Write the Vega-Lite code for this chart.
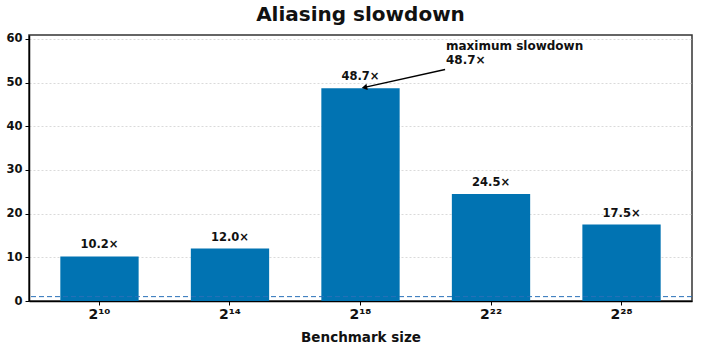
{
  "$schema": "https://vega.github.io/schema/vega-lite/v6.json",
  "width": 663,
  "height": 266,
  "autosize": {"type": "none"},
  "padding": {"left": 29, "top": 35, "right": 11, "bottom": 49},
  "background": "white",
  "title": {"text": "Aliasing slowdown", "font": "DejaVu Sans", "fontSize": 20, "fontWeight": "bold", "color": "#111", "offset": 8, "anchor": "middle"},
  "config": {
    "view": {"stroke": "#333", "strokeWidth": 1.5},
    "font": "DejaVu Sans"
  },
  "datasets": {
    "bars": [
      {"size": "2¹⁰", "slowdown": 10.2, "label": "10.2×"},
      {"size": "2¹⁴", "slowdown": 12.0, "label": "12.0×"},
      {"size": "2¹⁸", "slowdown": 48.7, "label": "48.7×"},
      {"size": "2²²", "slowdown": 24.5, "label": "24.5×"},
      {"size": "2²⁸", "slowdown": 17.5, "label": "17.5×"}
    ],
    "arrow": [
      {"px": 2.648, "py": 53.0, "part": "tail"},
      {"px": 2.03, "py": 48.9, "part": "tip"}
    ],
    "note": [
      {"px": 2.655, "py": 59.6, "text": "maximum slowdown\n48.7×"}
    ],
    "baseline": [
      {"level": 1}
    ]
  },
  "layer": [
    {
      "layer": [
        {
          "data": {"name": "bars"},
          "mark": {"type": "bar", "color": "#0173B2"},
          "encoding": {
            "x": {
              "field": "size", "type": "nominal", "sort": null,
              "scale": {"paddingInner": 0.4, "paddingOuter": 0.24},
              "axis": {
                "title": "Benchmark size", "labelAngle": 0, "labelFont": "DejaVu Sans", "labelFontSize": 14, "labelFontWeight": "bold", "labelColor": "#111",
                "titleFont": "DejaVu Sans", "titleFontSize": 13.5, "titleFontWeight": "bold", "titleColor": "#111", "titlePadding": 9,
                "domainColor": "#000", "domainWidth": 1.5, "tickColor": "#000", "tickSize": 4, "tickWidth": 1, "labelPadding": 2, "grid": false
              }
            },
            "y": {
              "field": "slowdown", "type": "quantitative",
              "scale": {"domain": [0, 60.9], "nice": false, "zero": true},
              "axis": {
                "title": null, "values": [0, 10, 20, 30, 40, 50, 60], "labelFont": "DejaVu Sans", "labelFontSize": 11.5, "labelFontWeight": "bold", "labelColor": "#111",
                "domainColor": "#000", "domainWidth": 1.5, "tickColor": "#000", "tickSize": 4, "tickWidth": 1, "labelPadding": 3,
                "grid": true, "gridColor": "#d0d0d0", "gridDash": [2, 2], "gridWidth": 0.8
              }
            }
          }
        },
        {
          "data": {"name": "bars"},
          "mark": {"type": "text", "baseline": "bottom", "dy": -6, "font": "DejaVu Sans", "fontSize": 11.5, "fontWeight": "bold", "color": "#111"},
          "encoding": {
            "x": {"field": "size", "type": "nominal", "sort": null},
            "y": {"field": "slowdown", "type": "quantitative"},
            "text": {"field": "label"}
          }
        },
        {
          "data": {"name": "baseline"},
          "mark": {"type": "rule", "color": "#2a70b8", "strokeDash": [5, 3], "strokeWidth": 1},
          "encoding": {"y": {"field": "level", "type": "quantitative"}}
        }
      ]
    },
    {
      "layer": [
        {
          "data": {"name": "arrow"},
          "mark": {"type": "line", "color": "#000", "strokeWidth": 1.3},
          "encoding": {
            "x": {"field": "px", "type": "quantitative", "scale": {"domain": [-0.54, 4.54], "nice": false, "zero": false}, "axis": null},
            "y": {"field": "py", "type": "quantitative"}
          }
        },
        {
          "data": {"name": "arrow"},
          "transform": [{"filter": "datum.part == 'tip'"}],
          "mark": {"type": "point", "shape": "triangle-up", "filled": true, "color": "#000", "size": 40, "angle": 258, "opacity": 1},
          "encoding": {
            "x": {"field": "px", "type": "quantitative"},
            "y": {"field": "py", "type": "quantitative"}
          }
        },
        {
          "data": {"name": "note"},
          "mark": {"type": "text", "align": "left", "baseline": "top", "lineBreak": "\n", "lineHeight": 14, "font": "DejaVu Sans", "fontSize": 12, "fontWeight": "bold", "color": "#111"},
          "encoding": {
            "x": {"field": "px", "type": "quantitative"},
            "y": {"field": "py", "type": "quantitative"},
            "text": {"field": "text"}
          }
        }
      ]
    }
  ],
  "resolve": {"scale": {"x": "independent"}}
}
